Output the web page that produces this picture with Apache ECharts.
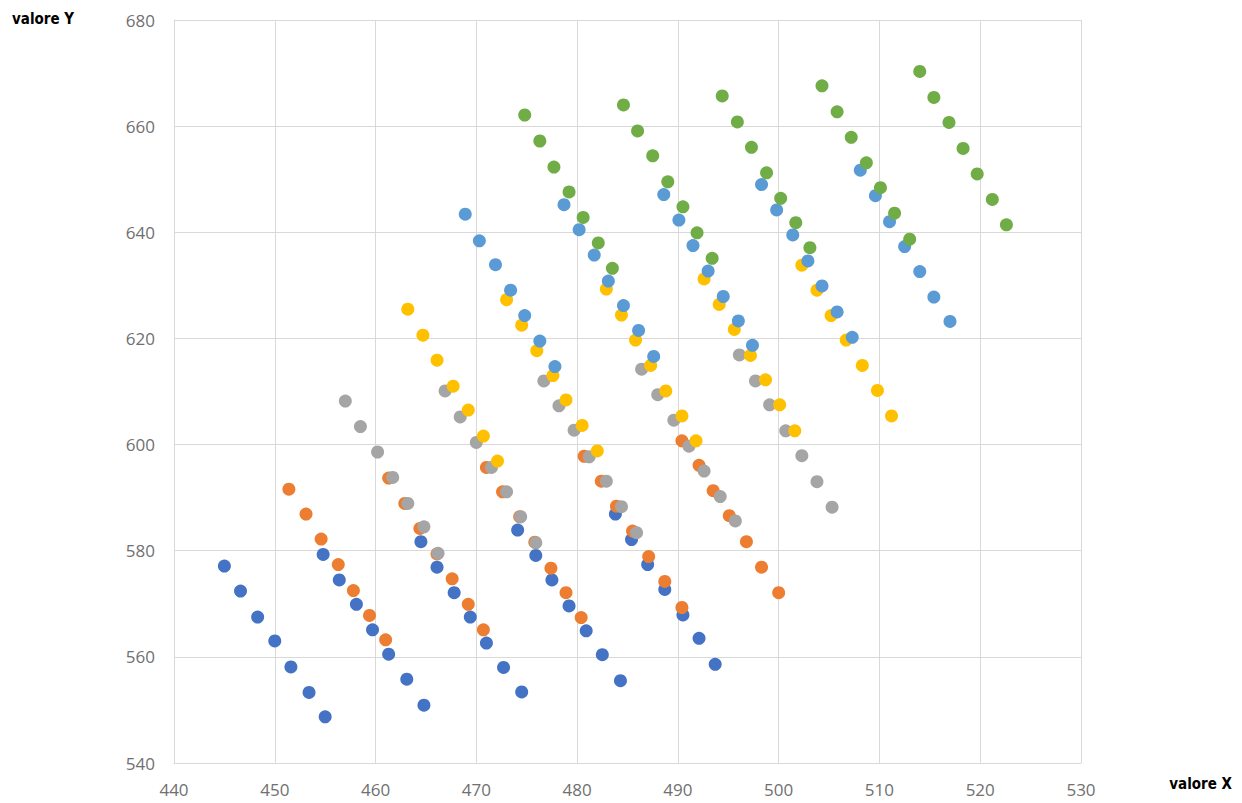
<!DOCTYPE html>
<html>
<head>
<meta charset="utf-8">
<style>
  html, body { margin: 0; padding: 0; background: #ffffff; }
  #chart { width: 1242px; height: 803px; }
</style>
<script src="https://cdn.jsdelivr.net/npm/echarts@6/dist/echarts.min.js"></script>
</head>
<body>
<div id="chart"></div>
<script>
// Tick settings
const xTicks = { min: 440, max: 530, step: 10 };
const yTicks = { min: 540, max: 680, step: 20 };

// Series values: [valore X, valore Y]
const serieBluScuro = [
  [445.0,577.1],[446.6,572.4],[448.3,567.5],[450.0,563.0],[451.6,558.1],[453.4,553.3],[455.0,548.7],
  [454.8,579.3],[456.4,574.5],[458.1,569.9],[459.7,565.1],[461.3,560.5],[463.1,555.8],[464.8,550.9],
  [464.5,581.7],[466.1,576.9],[467.8,572.1],[469.4,567.5],[471.0,562.6],[472.7,558.0],[474.5,553.4],
  [474.1,583.9],[475.9,579.1],[477.5,574.5],[479.2,569.6],[480.9,564.9],[482.5,560.4],[484.3,555.5],
  [483.8,586.9],[485.4,582.1],[487.0,577.4],[488.7,572.7],[490.5,567.9],[492.1,563.5],[493.7,558.6]
];
const serieArancio = [
  [451.4,591.6],[453.1,586.9],[454.6,582.2],[456.3,577.4],[457.8,572.5],[459.4,567.8],[461.0,563.2],
  [461.3,593.7],[462.9,588.9],[464.4,584.2],[466.1,579.4],[467.6,574.7],[469.2,569.9],[470.7,565.1],
  [471.0,595.7],[472.6,591.1],[474.3,586.4],[475.8,581.6],[477.4,576.7],[478.9,572.1],[480.4,567.4],
  [480.7,597.8],[482.4,593.1],[483.9,588.4],[485.5,583.7],[487.1,578.9],[488.7,574.2],[490.4,569.3],
  [490.4,600.7],[492.1,596.1],[493.5,591.3],[495.1,586.6],[496.8,581.7],[498.3,576.9],[500.0,572.1]
];
const serieGrigio = [
  [457.0,608.2],[458.5,603.4],[460.2,598.6],[461.7,593.8],[463.2,588.9],[464.8,584.5],[466.2,579.5],
  [466.9,610.1],[468.4,605.2],[470.0,600.4],[471.5,595.7],[473.0,591.1],[474.4,586.4],[475.9,581.5],
  [476.7,612.0],[478.2,607.3],[479.7,602.7],[481.2,597.7],[482.9,593.1],[484.4,588.3],[485.9,583.4],
  [486.4,614.2],[488.0,609.4],[489.6,604.6],[491.1,599.7],[492.6,595.0],[494.2,590.2],[495.7,585.6],
  [496.1,616.9],[497.7,612.0],[499.1,607.5],[500.7,602.6],[502.3,597.9],[503.8,593.0],[505.3,588.2]
];
const serieGiallo = [
  [463.2,625.5],[464.7,620.6],[466.1,615.9],[467.7,611.0],[469.2,606.5],[470.7,601.6],[472.1,596.9],
  [473.0,627.3],[474.5,622.5],[476.0,617.7],[477.6,613.0],[478.9,608.4],[480.5,603.6],[482.0,598.8],
  [482.9,629.3],[484.4,624.4],[485.8,619.7],[487.3,614.9],[488.8,610.1],[490.4,605.4],[491.8,600.7],
  [492.6,631.2],[494.1,626.4],[495.6,621.7],[497.2,616.8],[498.7,612.2],[500.1,607.5],[501.6,602.6],
  [502.3,633.8],[503.8,629.1],[505.2,624.3],[506.7,619.7],[508.3,614.9],[509.8,610.2],[511.2,605.4]
];
const serieAzzurro = [
  [468.9,643.4],[470.3,638.4],[471.9,633.9],[473.4,629.1],[474.8,624.3],[476.3,619.5],[477.8,614.7],
  [478.7,645.2],[480.2,640.5],[481.7,635.7],[483.1,630.8],[484.6,626.2],[486.1,621.5],[487.6,616.6],
  [488.6,647.1],[490.1,642.3],[491.5,637.5],[493.0,632.7],[494.5,627.9],[496.0,623.3],[497.4,618.7],
  [498.3,649.0],[499.8,644.2],[501.4,639.5],[502.9,634.6],[504.3,629.9],[505.8,625.0],[507.3,620.2],
  [508.1,651.7],[509.6,646.9],[511.0,642.0],[512.5,637.3],[514.0,632.6],[515.4,627.8],[517.0,623.2]
];
const serieVerde = [
  [474.8,662.1],[476.3,657.2],[477.7,652.3],[479.2,647.6],[480.6,642.8],[482.1,638.0],[483.5,633.2],
  [484.6,664.0],[486.0,659.1],[487.5,654.4],[489.0,649.5],[490.5,644.8],[491.9,639.9],[493.4,635.1],
  [494.4,665.7],[495.9,660.8],[497.3,656.0],[498.8,651.2],[500.2,646.4],[501.7,641.8],[503.1,637.1],
  [504.3,667.6],[505.8,662.7],[507.2,657.9],[508.7,653.1],[510.1,648.4],[511.5,643.6],[513.0,638.7],
  [514.0,670.3],[515.4,665.4],[516.9,660.7],[518.3,655.8],[519.7,651.0],[521.2,646.2],[522.6,641.4]
];

const serieNomi = ['Serie 1', 'Serie 2', 'Serie 3', 'Serie 4', 'Serie 5', 'Serie 6'];
const serieDati = [serieBluScuro, serieArancio, serieGrigio, serieGiallo, serieAzzurro, serieVerde];
const colori = ['#4472C4', '#ED7D31', '#A5A5A5', '#FFC000', '#5B9BD5', '#70AD47'];

const chart = echarts.init(document.getElementById('chart'), null, { renderer: 'svg' });

const nameFont = {
  fontFamily: '"Liberation Sans Narrow", "DejaVu Sans Condensed", "Roboto Condensed", Arial, sans-serif',
  fontWeight: 'bold',
  fontSize: 15,
  color: '#000000'
};
const labelStyle = {
  fontFamily: '"Open Sans", "Liberation Sans", sans-serif',
  fontSize: 17,
  color: '#707070'
};

chart.setOption({
  backgroundColor: '#ffffff',
  animation: false,
  title: [
    { text: 'valore Y', left: 12, top: 11, padding: 0, textStyle: nameFont },
    { text: 'valore X', right: 10, top: 776, padding: 0, textStyle: nameFont }
  ],
  grid: { left: 174, right: 161, top: 20, bottom: 40, containLabel: false },
  xAxis: {
    type: 'value',
    min: xTicks.min, max: xTicks.max, interval: xTicks.step,
    axisLine: { show: true, lineStyle: { color: '#d9d9d9', width: 1 } },
    axisTick: { show: false },
    axisLabel: Object.assign({ margin: 18 }, labelStyle),
    splitLine: { show: true, lineStyle: { color: '#d9d9d9', width: 1 } }
  },
  yAxis: {
    type: 'value',
    min: yTicks.min, max: yTicks.max, interval: yTicks.step,
    axisLine: { show: true, lineStyle: { color: '#d9d9d9', width: 1 } },
    axisTick: { show: false },
    axisLabel: Object.assign({ margin: 19 }, labelStyle),
    splitLine: { show: true, lineStyle: { color: '#d9d9d9', width: 1 } }
  },
  series: serieDati.map((d, i) => ({
    name: serieNomi[i],
    type: 'scatter',
    data: d,
    symbol: 'circle',
    symbolSize: 13,
    itemStyle: { color: colori[i], opacity: 1 },
    emphasis: { disabled: true }
  }))
});
</script>
</body>
</html>
